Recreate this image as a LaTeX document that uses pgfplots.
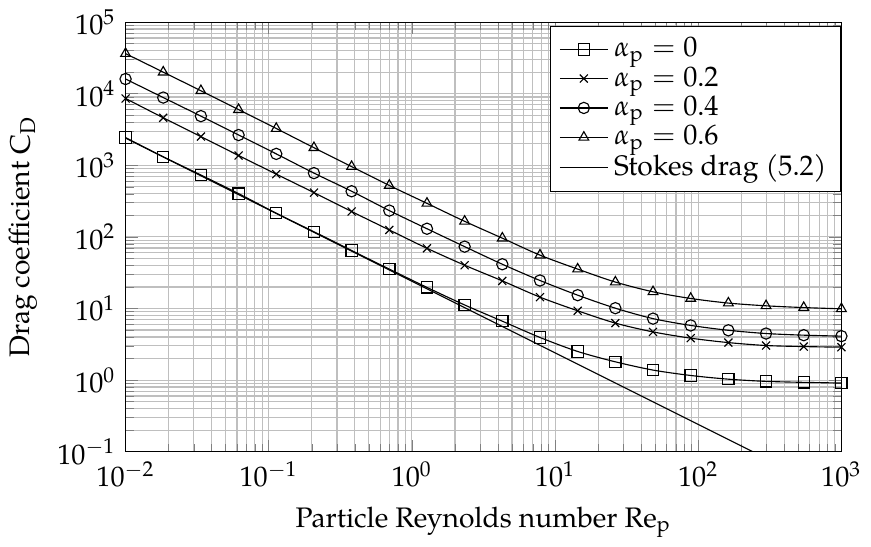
\documentclass[border=0pt]{standalone}
\usepackage{mathpazo}
\usepackage{fontspec}
\setmainfont{texgyrepagella}[Extension=.otf, UprightFont=*-regular, ItalicFont=*-italic, BoldFont=*-bold, BoldItalicFont=*-bolditalic]
\usepackage{pgfplots}
\pgfplotsset{compat=1.18}
\begin{document}
\begin{tikzpicture}
\begin{loglogaxis}[
  scale only axis,
  width=253.6pt, height=152.2pt,
  xmin=1e-2, xmax=1e3, ymin=1e-1, ymax=1e5,
  grid=both,
  xlabel={Particle Reynolds number $\mathrm{Re_p}$},
  ylabel={Drag coefficient $\mathrm{C_D}$},
  legend cell align=left,
  legend style={at={(0.999,0.99)}, anchor=north east, outer sep=0pt, row sep=-2pt},
]
\addplot[black, mark=square, smooth] coordinates {
(0.01,2438) (0.01833,1313) (0.033598,731) (0.061585,402) (0.11288,214)
(0.20691,118) (0.37927,64.5) (0.69519,35.5) (1.2743,19.7) (2.3357,11.2)
(4.2813,6.65) (7.8476,3.94) (14.384,2.51) (26.367,1.80) (48.329,1.38)
(88.587,1.16) (162.38,1.03) (297.64,0.96) (545.56,0.93) (1000,0.91)};
\addplot[black, mark=x, smooth] coordinates {
(0.01,8570) (0.01833,4610) (0.033598,2517) (0.061585,1368) (0.11288,753)
(0.20691,415) (0.37927,226) (0.69519,125) (1.2743,69.3) (2.3357,40.2)
(4.2813,24.3) (7.8476,14.4) (14.384,9.29) (26.367,6.25) (48.329,4.71)
(88.587,3.85) (162.38,3.34) (297.64,3.04) (545.56,2.94) (1000,2.88)};
\addplot[black, mark=o, smooth] coordinates {
(0.01,16030) (0.01833,8830) (0.033598,4860) (0.061585,2646) (0.11288,1443)
(0.20691,778) (0.37927,434) (0.69519,233) (1.2743,130) (2.3357,73.1)
(4.2813,41.5) (7.8476,24.6) (14.384,15.35) (26.367,10.1) (48.329,7.22)
(88.587,5.80) (162.38,4.96) (297.64,4.47) (545.56,4.24) (1000,4.11)};
\addplot[black, mark=triangle, smooth] coordinates {
(0.01,36300) (0.01833,20000) (0.033598,11000) (0.061585,5990) (0.11288,3265)
(0.20691,1760) (0.37927,959) (0.69519,523) (1.2743,294) (2.3357,165)
(4.2813,96) (7.8476,55.6) (14.384,35.5) (26.367,23.4) (48.329,17.1)
(88.587,13.8) (162.38,11.9) (297.64,10.9) (545.56,10.3) (1000,9.9)};
\addplot[black] coordinates {(0.01,2400) (1000,0.024)};
\legend{$\alpha_\mathrm{p}=0$, $\alpha_\mathrm{p}=0.2$, $\alpha_\mathrm{p}=0.4$, $\alpha_\mathrm{p}=0.6$, Stokes drag (5.2)}
\end{loglogaxis}
\end{tikzpicture}
\end{document}
